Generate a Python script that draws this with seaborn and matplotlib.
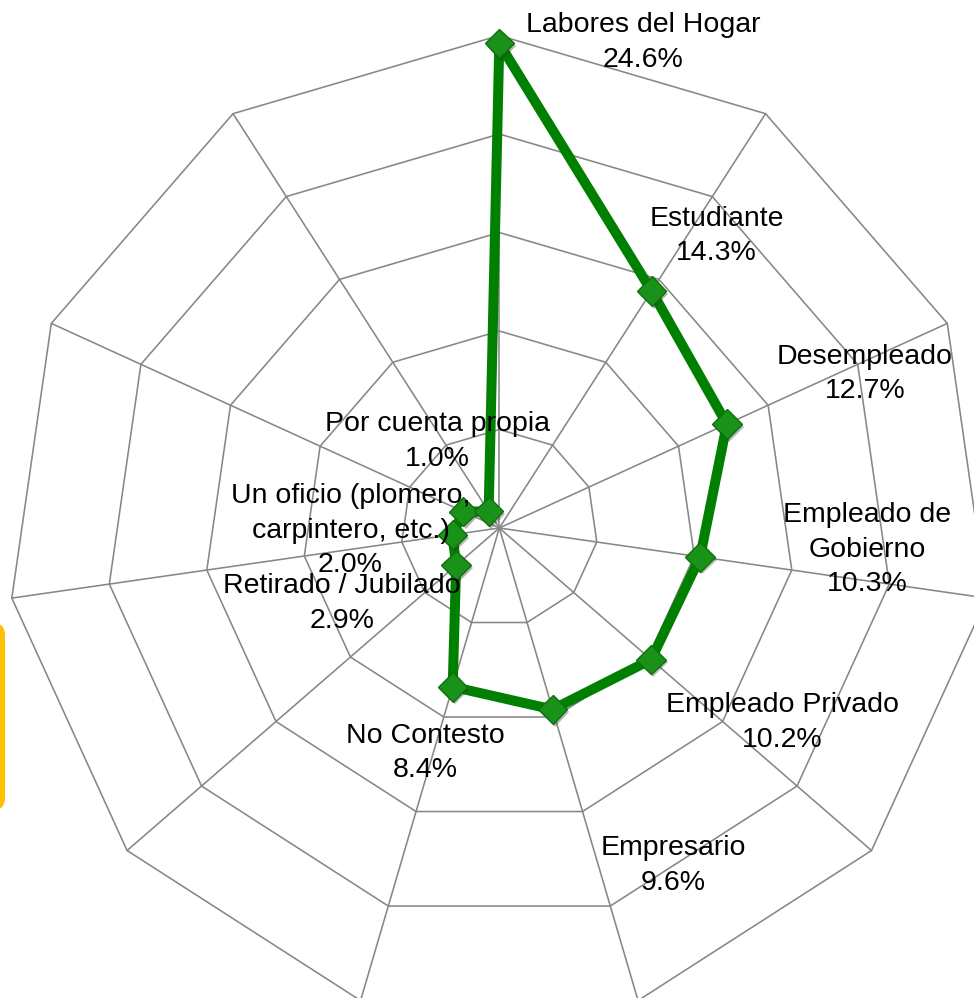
import numpy as np
import pandas as pd
import matplotlib
matplotlib.use("Agg")
import matplotlib.pyplot as plt
import matplotlib.patches as mpatches
import matplotlib.patheffects as pe
from matplotlib.transforms import IdentityTransform
import seaborn as sns

# Occupation shares (%) around the radar, clockwise from the top
categories = [
    "Labores del Hogar",
    "Estudiante",
    "Desempleado",
    "Empleado de\nGobierno",
    "Empleado Privado",
    "Empresario",
    "No Contesto",
    "Retirado / Jubilado",
    "",
    "Un oficio (plomero,\ncarpintero, etc.)",
    "Por cuenta propia",
]
values = [24.6, 14.3, 12.7, 10.3, 10.2, 9.6, 8.4, 2.9, 2.4, 2.0, 1.0]
value_labels = ["24.6%", "14.3%", "12.7%", "10.3%", "10.2%", "9.6%",
                "8.4%", "2.9%", "", "2.0%", "1.0%"]
ring_levels = [5, 10, 15, 20, 25]

# label offsets (pixels) from each point
label_offsets = [(144, 1), (65, 55), (138, 50), (167, 7), (131, -63),
                 (121, -156), (-27, -66), (-114, -38), (0, 0), (-113, -19),
                 (-51, 70)]

W, H = 974, 998
sns.set_theme(style="white")
plt.rcParams["font.family"] = ["Liberation Sans", "DejaVu Sans"]

fig = plt.figure(figsize=(W / 100, H / 100), dpi=100)
fig.patch.set_facecolor("white")

cx, cy, R = 499.3, 528.0, 492.5
ax = fig.add_axes([(cx - R) / W, (H - cy - R) / H, 2 * R / W, 2 * R / H],
                  projection="polar")
ax.set_theta_zero_location("N")
ax.set_theta_direction(-1)
ax.set_ylim(0, ring_levels[-1])
ax.grid(False)
ax.spines["polar"].set_visible(False)
ax.set_xticks([])
ax.set_yticks([])
ax.patch.set_alpha(0)

n = len(categories)
theta = np.arange(n) * 2 * np.pi / n
theta_closed = np.append(theta, 2 * np.pi)

grid_color = "#878787"
# polygonal web
for lvl in ring_levels:
    ax.plot(theta_closed, [lvl] * (n + 1), color=grid_color, lw=1.15,
            zorder=1, clip_on=False)
for t in theta:
    ax.plot([t, t], [0, ring_levels[-1]], color=grid_color, lw=1.15,
            zorder=1, clip_on=False)

df = pd.DataFrame({"theta": theta_closed, "pct": values + values[:1]})
sns.lineplot(data=df, x="theta", y="pct", sort=False, estimator=None,
             color="#008000", linewidth=7.2, ax=ax, zorder=3, clip_on=False)

pts = pd.DataFrame({"theta": theta, "pct": values})
ax.plot(pts["theta"], pts["pct"], linestyle="none", marker="D",
        markersize=15, markerfacecolor="#1a921a", markeredgecolor="#0c700c",
        markeredgewidth=1.0, zorder=4, clip_on=False,
        path_effects=[pe.SimplePatchShadow(offset=(1.5, -2), alpha=0.35,
                                           shadow_rgbFace="#333333"),
                      pe.Normal()])

ax.set_xlabel("")
ax.set_ylabel("")

for t, v, name, vl, (dx, dy) in zip(theta, values, categories, value_labels,
                                     label_offsets):
    if not name:
        continue
    ax.annotate(f"{name}\n{vl}", xy=(t, v), xytext=(dx, dy),
                textcoords="offset pixels", ha="center", va="center",
                multialignment="center", fontsize=20.5, linespacing=1.42,
                color="black", zorder=6, annotation_clip=False)

# edge of a neighbouring callout box
fig.add_artist(mpatches.FancyBboxPatch(
    (-60, H - 810), 65, 187, boxstyle="round,pad=0,rounding_size=12",
    facecolor="#FFC000", edgecolor="none", transform=IdentityTransform()))

fig.savefig("out.png", dpi=100)
